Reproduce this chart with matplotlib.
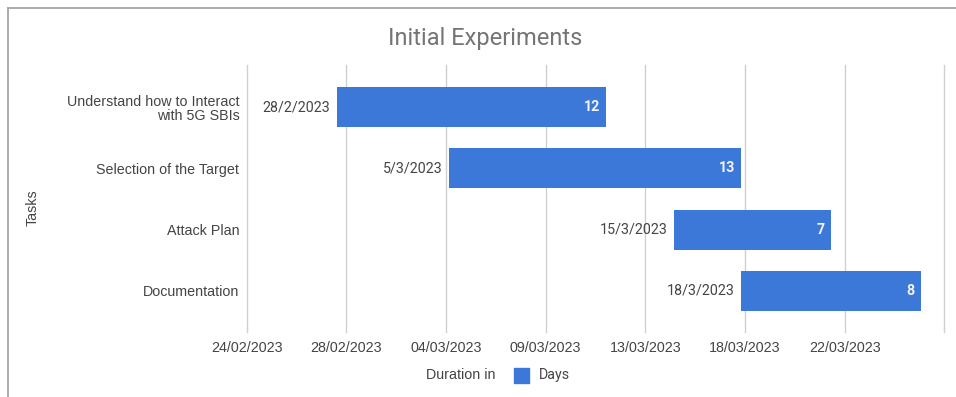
import numpy as np
import matplotlib
matplotlib.use("Agg")
import matplotlib.pyplot as plt
import matplotlib.dates as mdates
from matplotlib.patches import Rectangle
from matplotlib.lines import Line2D

# task schedule
tasks = ["Understand how to Interact\nwith 5G SBIs", "Selection of the Target",
         "Attack Plan", "Documentation"]
start_dates = ["2023-02-28", "2023-03-05", "2023-03-15", "2023-03-18"]
start_labels = ["28/2/2023", "5/3/2023", "15/3/2023", "18/3/2023"]
durations = [12, 13, 7, 8]

axis_start = "2023-02-24"
axis_end = "2023-03-27"

BLUE = "#3c78d8"
TEXT = "#444444"
GRID = "#d0d0d0"

fig = plt.figure(figsize=(9.56, 3.97), dpi=100)
ax = fig.add_axes([246.7 / 956, 1 - 332 / 397, (944.3 - 246.7) / 956, (332 - 65) / 397])

starts = mdates.datestr2num(start_dates)
y = np.arange(len(tasks))
ax.barh(y, durations, left=starts, height=0.653, color=BLUE, zorder=3)

for yi, s, d, lab in zip(y, starts, durations, start_labels):
    ax.annotate(lab, (s, yi), xytext=(-4.3, 0), textcoords="offset points",
                ha="right", va="center", fontsize=10.3, color=TEXT, family="Roboto")
    ax.annotate(str(d), (s + d, yi), xytext=(-4.3, 0), textcoords="offset points",
                ha="right", va="center", fontsize=10.3, color="#f4f4f4",
                family="Roboto", weight="bold")

x0 = mdates.datestr2num(axis_start)
x1 = mdates.datestr2num(axis_end) + 0.05
ax.set_xlim(x0, x1)
ax.set_ylim(3.67, -0.69)

ticks = np.linspace(x0, x1, 8)
ax.set_xticks(ticks)
labels = [mdates.num2date(t).strftime("%d/%m/%Y") for t in ticks]
labels[-1] = ""
ax.set_xticklabels(labels, fontsize=10.3, color=TEXT, family="Liberation Sans")
ax.set_yticks(y)
ax.set_yticklabels(tasks, fontsize=10.3, color=TEXT, family="Liberation Sans",
                   linespacing=1.05)
ax.tick_params(length=0)
ax.tick_params(axis="y", pad=5.3)
ax.tick_params(axis="x", pad=6.5)

ax.grid(axis="x", color=GRID, linewidth=1, zorder=0)
for gl in ax.get_xgridlines():
    gl.set_clip_on(False)
for sp in ax.spines.values():
    sp.set_visible(False)

fig.text(485.5 / 956, 1 - 39 / 397, "Initial Experiments", ha="center", va="center",
         fontsize=17, color="#757575", family="Roboto")
fig.text(33 / 956, 1 - 208 / 397, "Tasks", rotation=90, ha="center", va="center",
         fontsize=10.3, color=TEXT, family="Liberation Sans")

# legend row under the axis
fig.text(495 / 956, 1 - 375 / 397, "Duration in", ha="right", va="center",
         fontsize=10.3, color=TEXT, family="Liberation Sans")
fig.patches.append(Rectangle((513.5 / 956, 1 - 382.5 / 397), 15 / 956, 15 / 397,
                             transform=fig.transFigure, color=BLUE, figure=fig))
fig.text(538.5 / 956, 1 - 375 / 397, "Days", ha="left", va="center",
         fontsize=10.3, color=TEXT, family="Roboto")

# chart frame
fig.lines.append(Line2D([7.5 / 956, 1], [1 - 7.5 / 397, 1 - 7.5 / 397],
                        transform=fig.transFigure, color="#9e9e9e", linewidth=1.2))
fig.lines.append(Line2D([7.5 / 956, 7.5 / 956], [0, 1 - 7.5 / 397],
                        transform=fig.transFigure, color="#9e9e9e", linewidth=1.2))

fig.savefig("out.png", dpi=100, facecolor="white")
